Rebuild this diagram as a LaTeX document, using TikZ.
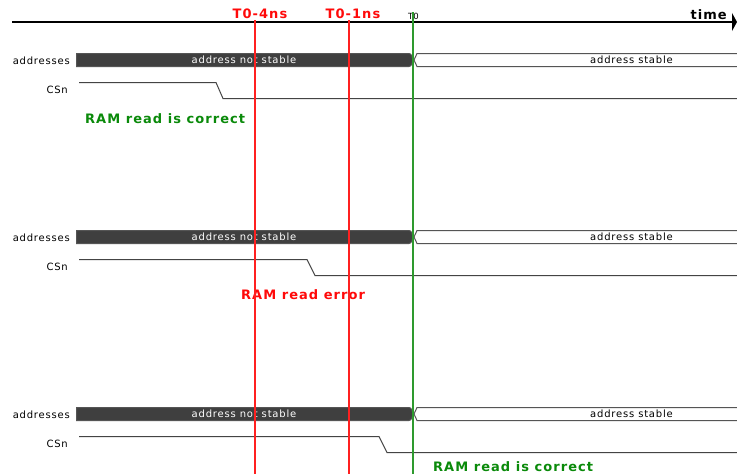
\documentclass[tikz,border=0pt]{standalone}
\usepackage{fontspec}
\setmainfont{DejaVu Sans}
\newfontfamily\sigfont[LetterSpace=8]{DejaVu Sans}
\usetikzlibrary{arrows.meta}

\definecolor{barfill}{HTML}{3F3F3F}
\definecolor{barline}{HTML}{555555}
\definecolor{wavegray}{HTML}{444444}
\definecolor{markred}{HTML}{FF2020}
\definecolor{markgreen}{HTML}{2E9A2E}
\definecolor{textred}{HTML}{FF0A0A}
\definecolor{textgreen}{HTML}{0A8A0A}

\tikzset{
  sig/.style={font=\sigfont\fontsize{10}{12}\selectfont, inner sep=0pt},
  lab/.style={font=\sigfont\bfseries\fontsize{13}{15}\selectfont, inner sep=0pt},
  wave/.style={draw=wavegray, line width=1pt},
  unstable/.style={draw=barline, fill=barfill, line width=1pt},
  stablebus/.style={draw=barline, fill=white, line width=1pt},
  redline/.style={draw=markred, line width=1.15pt},
  greenline/.style={draw=markgreen, line width=1.15pt},
}

\begin{document}
\begin{tikzpicture}[x=1pt, y=-1pt]
\useasboundingbox (0,0) rectangle (737,474);
\fill[white] (0,0) rectangle (737,474);

% time axis
\coordinate (axisL) at (12,22);
\coordinate (axisR) at (737,22);
\draw[line width=2pt, -{Triangle[length=5pt, width=18pt]}] (axisL) -- (axisR);
\node[lab, anchor=base east] (timelbl) at (727,19.5) {time};

% three scenarios, 177pt apart
\foreach \o/\sa/\sb/\i in {0/216/223/1, 177/307/315/2, 354/379/387/3} {
  % address bus: unstable until T0, stable afterwards
  \path[unstable] (76.5,53.5+\o) -- (409,53.5+\o)
    .. controls (411,53.5+\o) and (413,57+\o) .. (413,60+\o)
    .. controls (413,63+\o) and (411,66.5+\o) .. (409,66.5+\o)
    -- (76.5,66.5+\o) -- cycle;
  \path[stablebus] (738,53.5+\o) -- (417,53.5+\o) -- (414,60+\o)
    -- (417,66.5+\o) -- (738,66.5+\o);
  \node[sig, text=white] (uns\i) at (244,60+\o) {address not stable};
  \node[sig] (sta\i) at (631.5,60+\o) {address stable};
  \node[sig, anchor=east] (addr\i) at (70,60.5+\o) {addresses};
  % chip select falling edge
  \draw[wave] (79,82.5+\o) -- (\sa,82.5+\o) -- (\sb,98.5+\o) -- (738,98.5+\o);
  \node[sig, anchor=east] (csn\i) at (68,90+\o) {CSn};
}

\node[lab, text=textgreen, anchor=base west] (res1) at (85,123.5) {RAM read is correct};
\node[lab, text=textred, anchor=base west] (res2) at (241,299.5) {RAM read error};
\node[lab, text=textgreen, anchor=base west] (res3) at (433,471) {RAM read is correct};

% timing markers
\node[lab, text=textred, anchor=base] (m4lbl) at (260,18) {T0-4ns};
\node[lab, text=textred, anchor=base] (m1lbl) at (353,18) {T0-1ns};
\node[font=\fontsize{8.5}{9}\selectfont, inner sep=0pt, anchor=base] (t0lbl) at (413.5,19) {T0};
\coordinate (m4top) at (255,20);
\coordinate (m4bot) at (255,474);
\coordinate (m1top) at (349,20);
\coordinate (m1bot) at (349,474);
\coordinate (t0top) at (413,12);
\coordinate (t0bot) at (413,474);
\draw[redline] (m4top) -- (m4bot);
\draw[redline] (m1top) -- (m1bot);
\draw[greenline] (t0top) -- (t0bot);
\end{tikzpicture}
\end{document}
